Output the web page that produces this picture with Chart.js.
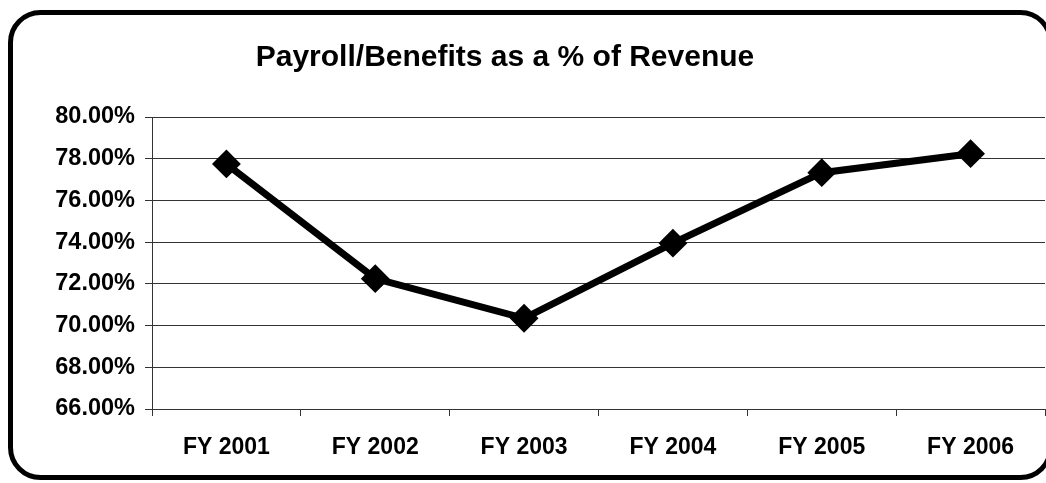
<!DOCTYPE html>
<html>
<head>
<meta charset="utf-8">
<title>Payroll/Benefits as a % of Revenue</title>
<script src="https://cdn.jsdelivr.net/npm/chart.js@4/dist/chart.umd.min.js"></script>
<style>
  html, body { margin: 0; padding: 0; background: #fff; overflow: hidden; }
  #wrap { width: 1060px; height: 483px; }
</style>
</head>
<body>
<div id="wrap"><canvas id="payrollChart" width="1060" height="483"></canvas></div>
<script>
// Fiscal years and payroll/benefits share of revenue (%)
const years = ['FY 2001', 'FY 2002', 'FY 2003', 'FY 2004', 'FY 2005', 'FY 2006'];
const payrollPct = [77.75, 72.25, 70.35, 73.95, 77.33, 78.24];
const chartTitle = 'Payroll/Benefits as a % of Revenue';
const yMin = 66;
const yMax = 80;
const yStep = 2;

const FONT = '"Liberation Sans", Arial, sans-serif';

// Rounded border round the whole chart, plus the bold title
const framePlugin = {
    id: 'frame',
    afterDraw(chart) {
        const ctx = chart.ctx;
        ctx.save();
        ctx.lineWidth = 5;
        ctx.strokeStyle = '#000';
        ctx.beginPath();
        ctx.roundRect(10.5, 12.5, 1040, 465, 30);
        ctx.stroke();

        ctx.fillStyle = '#000';
        ctx.font = 'bold 30px ' + FONT;
        ctx.textAlign = 'center';
        ctx.textBaseline = 'alphabetic';
        ctx.fillText(chartTitle, 505, 66);
        ctx.restore();
    }
};

const ctx = document.getElementById('payrollChart').getContext('2d');
const chart = new Chart(ctx, {
    type: 'line',
    data: {
        labels: years,
        datasets: [{
            data: payrollPct,
            borderColor: '#000',
            borderWidth: 7,
            tension: 0,
            pointStyle: 'rectRot',
            pointRadius: 13,
            pointBorderWidth: 2,
            pointBackgroundColor: '#000',
            pointBorderColor: '#000'
        }]
    },
    options: {
        responsive: false,
        animation: false,
        layout: {
            padding: { top: 117, right: 9, bottom: 0, left: 0 }
        },
        plugins: {
            legend: { display: false },
            tooltip: { enabled: false },
            title: { display: false }
        },
        scales: {
            x: {
                offset: true,
                grid: {
                    offset: true,
                    drawOnChartArea: false,
                    drawTicks: true,
                    tickLength: 7,
                    color: '#333'
                },
                border: { display: true, color: '#333', width: 1 },
                ticks: {
                    color: '#000',
                    padding: 18,
                    font: { family: FONT, size: 23, weight: 'bold' },
                    maxRotation: 0
                },
                afterFit(scale) { scale.height = 74; }
            },
            y: {
                min: yMin,
                max: yMax,
                grid: {
                    color: '#333',
                    tickLength: 7
                },
                border: { display: true, color: '#333', width: 1 },
                ticks: {
                    stepSize: yStep,
                    color: '#000',
                    padding: 10,
                    font: { family: FONT, size: 23.5, weight: 'bold' },
                    callback: v => v.toFixed(2) + '%'
                },
                afterFit(scale) { scale.width = 152; }
            }
        }
    },
    plugins: [framePlugin]
});
</script>
</body>
</html>
